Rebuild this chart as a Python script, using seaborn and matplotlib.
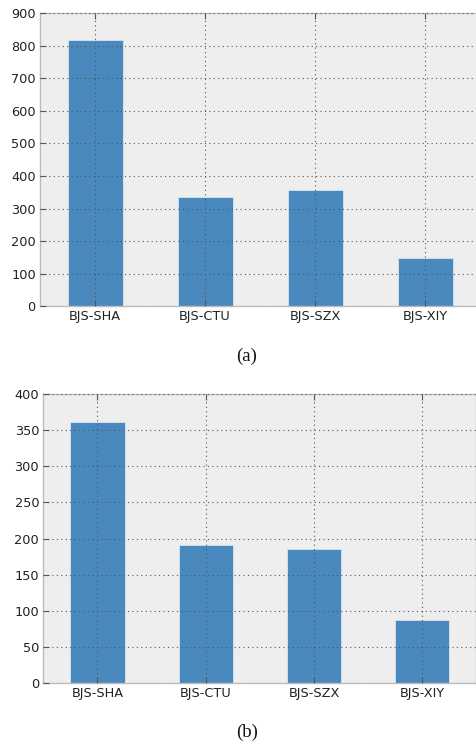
import matplotlib
matplotlib.use("Agg")
import matplotlib.pyplot as plt
import seaborn as sns
import pandas as pd

# Route pairs and the two measured series
routes = ["BJS-SHA", "BJS-CTU", "BJS-SZX", "BJS-XIY"]
values_a = [817, 335, 356, 147]
values_b = [361, 191, 186, 87]

a_ticks = [0, 100, 200, 300, 400, 500, 600, 700, 800, 900]
b_ticks = [0, 50, 100, 150, 200, 250, 300, 350, 400]

sns.set_theme(style="white")
plt.rcParams["font.family"] = ["DejaVu Sans"]

BAR_COLOR = "#4A89BD"
FACE = "#EEEEEE"

fig = plt.figure(figsize=(4.77, 7.45), dpi=100)
ax_a = fig.add_axes([0.0839, 0.5889, 0.9224, 0.3933])
ax_b = fig.add_axes([0.0908, 0.0836, 0.9078, 0.3871])


def draw(ax, values, ticks):
    df = pd.DataFrame({"route": routes, "value": values})
    sns.barplot(data=df, x="route", y="value", ax=ax, color=BAR_COLOR,
                width=0.5, saturation=1, edgecolor="#D8E4EE", linewidth=0.6,
                zorder=2)
    ax.set_facecolor(FACE)
    ax.set_xlim(-0.5, 3.5)
    ax.set_ylim(ticks[0], ticks[-1])
    ax.set_yticks(ticks)
    ax.set_xlabel("")
    ax.set_ylabel("")
    ax.set_axisbelow(False)
    ax.grid(True, color="#555555", linestyle=(0, (1, 3)), linewidth=0.8,
            zorder=3)
    for s in ax.spines.values():
        s.set_color("#BCBCBC")
        s.set_linewidth(1.0)
    ax.tick_params(axis="both", direction="in", length=4, width=0.8,
                   color="#555555", labelsize=9.3, labelcolor="#222222",
                   pad=3, top=True, right=False, left=True, bottom=True)


draw(ax_a, values_a, a_ticks)
draw(ax_b, values_b, b_ticks)

cap_font = dict(family=["Liberation Serif", "DejaVu Serif"], fontsize=13.5,
                ha="center", va="center", color="#111111")
fig.text(0.517, 0.522, "(a)", **cap_font)
fig.text(0.517, 0.0174, "(b)", **cap_font)

fig.savefig("out.png", dpi=100)
